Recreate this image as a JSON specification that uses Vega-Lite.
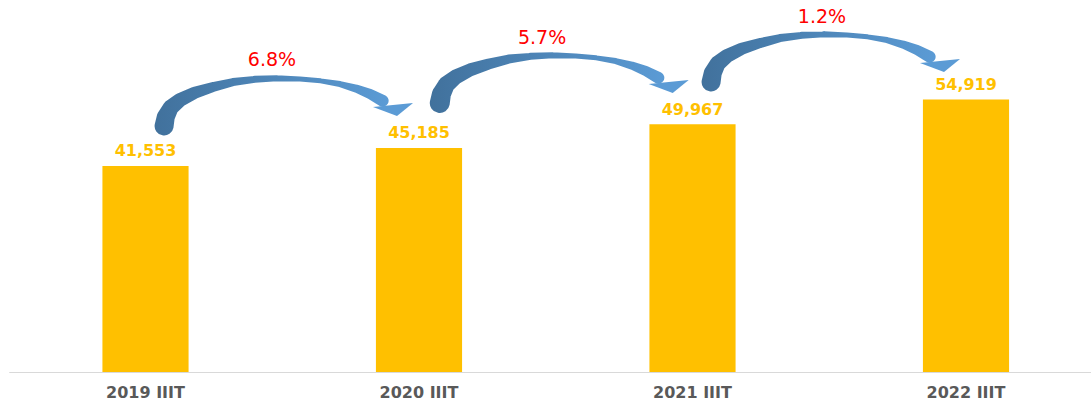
{
  "$schema": "https://vega.github.io/schema/vega-lite/v6.json",
  "autosize": {"type": "none"},
  "padding": {"left": 8.75, "top": 0, "right": 0, "bottom": 31},
  "width": 1082.25,
  "height": 372,
  "background": "#ffffff",
  "config": {"view": {"stroke": null}},
  "datasets": {
    "bars": [
      {"label": "2019 IIIT", "value": 41553},
      {"label": "2020 IIIT", "value": 45185},
      {"label": "2021 IIIT", "value": 49967},
      {"label": "2022 IIIT", "value": 54919}
    ],
    "arrows": [
      {"arrow": 1, "k": 1, "xi": 0.068, "v": 49594, "w": 19},
      {"arrow": 1, "k": 2, "xi": 0.074, "v": 51400, "w": 18},
      {"arrow": 1, "k": 3, "xi": 0.092, "v": 53300, "w": 16},
      {"arrow": 1, "k": 4, "xi": 0.126, "v": 54835, "w": 14},
      {"arrow": 1, "k": 5, "xi": 0.18, "v": 56300, "w": 12},
      {"arrow": 1, "k": 6, "xi": 0.247, "v": 57456, "w": 10},
      {"arrow": 1, "k": 7, "xi": 0.32, "v": 58450, "w": 8},
      {"arrow": 1, "k": 8, "xi": 0.4, "v": 59000, "w": 7},
      {"arrow": 1, "k": 9, "xi": 0.48, "v": 59200, "w": 6},
      {"arrow": 1, "k": 10, "xi": 0.565, "v": 59069, "w": 5},
      {"arrow": 1, "k": 11, "xi": 0.64, "v": 58700, "w": 5},
      {"arrow": 1, "k": 12, "xi": 0.711, "v": 58061, "w": 6},
      {"arrow": 1, "k": 13, "xi": 0.77, "v": 57150, "w": 8},
      {"arrow": 1, "k": 14, "xi": 0.821, "v": 56045, "w": 10},
      {"arrow": 1, "k": 15, "xi": 0.867, "v": 54700, "w": 12},
      {"arrow": 2, "k": 1, "xi": 1.076, "v": 54231, "w": 20},
      {"arrow": 2, "k": 2, "xi": 1.082, "v": 56037, "w": 19},
      {"arrow": 2, "k": 3, "xi": 1.1, "v": 57937, "w": 17},
      {"arrow": 2, "k": 4, "xi": 1.134, "v": 59472, "w": 15},
      {"arrow": 2, "k": 5, "xi": 1.188, "v": 60937, "w": 13},
      {"arrow": 2, "k": 6, "xi": 1.255, "v": 62093, "w": 11},
      {"arrow": 2, "k": 7, "xi": 1.328, "v": 63087, "w": 9},
      {"arrow": 2, "k": 8, "xi": 1.408, "v": 63637, "w": 7},
      {"arrow": 2, "k": 9, "xi": 1.488, "v": 63837, "w": 6},
      {"arrow": 2, "k": 10, "xi": 1.573, "v": 63706, "w": 5},
      {"arrow": 2, "k": 11, "xi": 1.648, "v": 63337, "w": 5},
      {"arrow": 2, "k": 12, "xi": 1.719, "v": 62698, "w": 6},
      {"arrow": 2, "k": 13, "xi": 1.778, "v": 61787, "w": 8},
      {"arrow": 2, "k": 14, "xi": 1.829, "v": 60682, "w": 10},
      {"arrow": 2, "k": 15, "xi": 1.875, "v": 59337, "w": 12},
      {"arrow": 3, "k": 1, "xi": 2.068, "v": 58464, "w": 19},
      {"arrow": 3, "k": 2, "xi": 2.074, "v": 60270, "w": 18},
      {"arrow": 3, "k": 3, "xi": 2.092, "v": 62170, "w": 16},
      {"arrow": 3, "k": 4, "xi": 2.126, "v": 63705, "w": 14},
      {"arrow": 3, "k": 5, "xi": 2.18, "v": 65170, "w": 12},
      {"arrow": 3, "k": 6, "xi": 2.247, "v": 66326, "w": 10},
      {"arrow": 3, "k": 7, "xi": 2.32, "v": 67320, "w": 8},
      {"arrow": 3, "k": 8, "xi": 2.4, "v": 67870, "w": 7},
      {"arrow": 3, "k": 9, "xi": 2.48, "v": 68070, "w": 6},
      {"arrow": 3, "k": 10, "xi": 2.565, "v": 67939, "w": 5},
      {"arrow": 3, "k": 11, "xi": 2.64, "v": 67570, "w": 5},
      {"arrow": 3, "k": 12, "xi": 2.711, "v": 66931, "w": 6},
      {"arrow": 3, "k": 13, "xi": 2.77, "v": 66020, "w": 8},
      {"arrow": 3, "k": 14, "xi": 2.821, "v": 64915, "w": 10},
      {"arrow": 3, "k": 15, "xi": 2.867, "v": 63570, "w": 12}
    ],
    "heads": [
      {"arrow": 1, "xi": 0.905, "v": 53827},
      {"arrow": 2, "xi": 1.913, "v": 58464},
      {"arrow": 3, "xi": 2.905, "v": 62697}
    ],
    "pcts": [
      {"pct": "6.8%", "xi": 0.4625, "v": 62899},
      {"pct": "5.7%", "xi": 1.45, "v": 67334},
      {"pct": "1.2%", "xi": 2.4735, "v": 71568}
    ]
  },
  "resolve": {"scale": {"x": "independent"}},
  "layer": [
    {
      "data": {"name": "bars"},
      "encoding": {
        "x": {
          "field": "label", "type": "nominal", "sort": null,
          "scale": {"range": [0, 1094], "paddingInner": 0.685, "paddingOuter": 0.3425},
          "axis": {
            "title": null, "ticks": false, "domainColor": "#D9D9D9", "domainWidth": 1,
            "labelFont": "DejaVu Sans", "labelFontWeight": "bold", "labelFontSize": 16,
            "labelColor": "#595959", "labelPadding": 25, "labelBaseline": "alphabetic", "labelAngle": 0, "grid": false
          }
        },
        "y": {
          "field": "value", "type": "quantitative",
          "scale": {"domain": [0, 75000], "nice": false, "zero": true},
          "axis": null
        }
      },
      "layer": [
        {
          "mark": {"type": "bar", "color": "#FFC000"}
        },
        {
          "mark": {"type": "text", "color": "#FFC000", "font": "DejaVu Sans", "fontWeight": "bold", "fontSize": 16, "baseline": "middle", "dy": -14.5},
          "encoding": {
            "text": {"field": "value", "type": "quantitative", "format": ","}
          }
        }
      ]
    },
    {
      "layer": [
        {
          "data": {"name": "arrows"},
          "mark": {
            "type": "trail",
            "color": {
              "gradient": "linear", "x1": 0, "y1": 0, "x2": 1, "y2": 0,
              "stops": [{"offset": 0, "color": "#41719C"}, {"offset": 1, "color": "#5B9BD5"}]
            }
          },
          "encoding": {
            "x": {"field": "xi", "type": "quantitative", "scale": {"domain": [-0.5, 3.5], "range": [0, 1094], "nice": false, "zero": false}, "axis": null},
            "y": {"field": "v", "type": "quantitative", "axis": null},
            "size": {"field": "w", "type": "quantitative", "scale": null},
            "detail": {"field": "arrow", "type": "nominal"},
            "order": {"field": "k", "type": "quantitative"}
          }
        },
        {
          "data": {"name": "heads"},
          "mark": {"type": "point", "filled": true, "opacity": 1, "color": "#5B9BD5", "size": 1600, "shape": "M-1,0.1L1,-0.1L0.2,0.55Z"},
          "encoding": {
            "x": {"field": "xi", "type": "quantitative", "scale": {"domain": [-0.5, 3.5], "range": [0, 1094], "nice": false, "zero": false}, "axis": null},
            "y": {"field": "v", "type": "quantitative", "axis": null}
          }
        },
        {
          "data": {"name": "pcts"},
          "mark": {"type": "text", "color": "#FF0000", "font": "DejaVu Sans", "fontSize": 19, "baseline": "middle"},
          "encoding": {
            "x": {"field": "xi", "type": "quantitative", "scale": {"domain": [-0.5, 3.5], "range": [0, 1094], "nice": false, "zero": false}, "axis": null},
            "y": {"field": "v", "type": "quantitative", "axis": null},
            "text": {"field": "pct", "type": "nominal"}
          }
        }
      ]
    }
  ]
}
